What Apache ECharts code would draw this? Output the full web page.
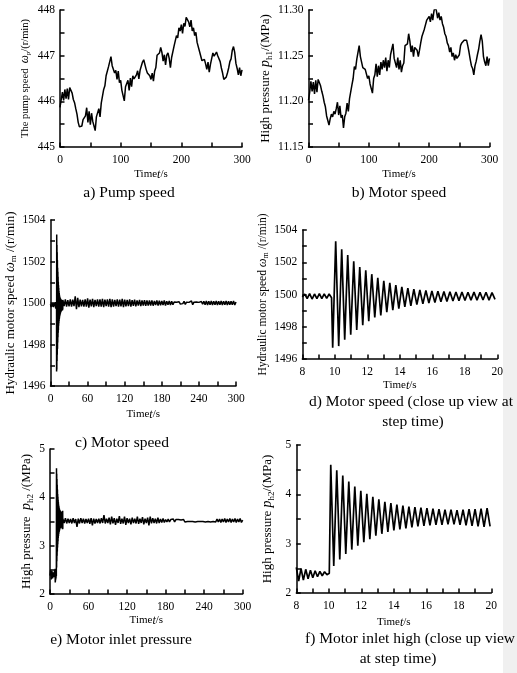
<!DOCTYPE html>
<html><head><meta charset="utf-8">
<script src="https://cdn.jsdelivr.net/npm/echarts@6/dist/echarts.min.js"></script>
<style>html,body{margin:0;padding:0;background:#fff}#c{width:517px;height:673px}</style>
</head><body><div id="c"></div><script>
// ---- data ----
// a) pump speed, t = 0..300 s every 2 s
const pumpSpeed = [445.87,446.04,446.20,446.02,446.26,446.06,446.28,446.04,446.30,446.28,446.18,446.04,445.97,445.84,445.72,445.54,445.44,445.48,445.46,445.60,445.56,445.68,445.86,445.54,445.78,445.49,445.74,445.56,445.56,445.36,445.66,445.64,445.84,445.66,445.96,445.94,446.26,446.34,446.56,446.56,446.76,446.76,446.98,446.78,446.82,446.62,446.68,446.48,446.66,446.41,446.46,446.24,446.26,446.01,446.32,446.29,446.46,446.24,446.51,446.32,446.56,446.49,446.50,446.58,446.67,446.49,446.68,446.64,446.86,446.91,446.87,446.70,446.62,446.66,446.56,446.48,446.62,446.44,446.66,446.74,447.01,446.99,447.06,447.18,447.07,446.88,447.02,446.80,447.01,447.06,446.94,446.74,446.96,446.99,447.21,447.19,447.44,447.39,447.61,447.54,447.68,447.49,447.71,447.64,447.84,447.82,447.74,447.63,447.78,447.54,447.61,447.44,447.51,447.29,447.31,447.09,447.11,446.89,446.91,446.92,446.82,446.70,446.86,446.64,446.81,446.79,447.06,446.99,447.01,447.08,447.00,447.03,446.87,446.73,446.62,446.48,446.44,446.53,446.62,446.73,446.87,446.93,447.12,447.20,447.07,446.83,446.72,446.58,446.74,446.56,446.69];
// b) high pressure p_h1, t = 0..300 s every 2 s
const highPressure1 = [11.201,11.210,11.222,11.211,11.221,11.208,11.223,11.210,11.224,11.222,11.217,11.211,11.206,11.199,11.194,11.184,11.179,11.174,11.181,11.186,11.183,11.189,11.186,11.192,11.199,11.185,11.195,11.182,11.185,11.171,11.183,11.187,11.198,11.189,11.203,11.202,11.218,11.225,11.238,11.235,11.246,11.247,11.261,11.249,11.248,11.237,11.239,11.235,11.235,11.225,11.228,11.219,11.221,11.209,11.225,11.229,11.241,11.227,11.239,11.229,11.243,11.235,11.245,11.237,11.248,11.233,11.245,11.237,11.251,11.252,11.263,11.247,11.248,11.237,11.248,11.235,11.245,11.232,11.239,11.242,11.261,11.259,11.263,11.274,11.266,11.254,11.261,11.249,11.259,11.261,11.256,11.249,11.256,11.264,11.271,11.271,11.279,11.281,11.289,11.289,11.293,11.287,11.296,11.289,11.299,11.304,11.299,11.291,11.297,11.289,11.293,11.285,11.281,11.274,11.271,11.264,11.261,11.254,11.259,11.249,11.253,11.245,11.251,11.247,11.246,11.251,11.261,11.264,11.263,11.267,11.266,11.267,11.261,11.254,11.246,11.239,11.236,11.229,11.239,11.244,11.251,11.257,11.266,11.273,11.266,11.249,11.243,11.239,11.249,11.239,11.247];
// c) motor speed before step, t = 0..7 s every 1 s
const motorSpeedPre0 = [1499.95,1499.8,1500.0,1499.82,1499.98,1499.8,1500.0,1499.85];
// d) motor speed close-up: before step (t = 8..9.8, every 0.15 s)
const motorSpeedPre = [1499.85,1500.02,1499.75,1500.05,1499.72,1500.03,1499.75,1500.05,1499.74,1500.04,1499.76,1500.03,1499.8];
// d) after step: successive troughs / peaks from t = 9.87 s, every 0.185 s
const motorSpeedStep = [1496.7,1503.3,1496.8,1502.8,1497.2,1502.45,1497.5,1502.06,1497.8,1501.7,1498.1,1501.5,1498.35,1501.26,1498.57,1501.03,1498.7,1500.85,1498.9,1500.72,1499.03,1500.58,1499.13,1500.48,1499.23,1500.4,1499.3,1500.33,1499.37,1500.28,1499.42,1500.25,1499.47,1500.22,1499.5,1500.2,1499.55,1500.18,1499.57,1500.17,1499.6,1500.15,1499.62,1500.16,1499.63,1500.14,1499.65,1500.15,1499.64,1500.13,1499.66,1500.14,1499.65,1500.12,1499.7];
// c) motor speed band, t = 20..300 s every 2 s
const motorSpeedBand = [1500.15,1499.85,1500.17,1499.83,1500.14,1499.84,1500.18,1499.82,1500.16,1499.85,
1500.32,1499.7,1500.25,1499.8,1500.16,1499.84,1500.15,1499.83,1500.17,1499.82,
1500.22,1499.78,1500.16,1499.84,1500.2,1499.8,1500.15,1499.85,1500.17,1499.83,
1500.18,1499.82,1500.2,1499.8,1500.16,1499.85,1500.18,1499.82,1500.2,1499.8,
1500.17,1499.83,1500.15,1499.85,1500.18,1499.82,1500.16,1499.84,1500.2,1499.8,
1500.16,1499.84,1500.15,1499.85,1500.17,1499.83,1500.14,1499.86,1500.16,1499.84,
1500.13,1499.87,1500.15,1499.85,1500.12,1499.88,1500.14,1499.86,1500.13,1499.87,
1500.12,1499.88,1500.13,1499.87,1500.1,1499.9,1500.12,1499.88,1500.11,1499.89,
1500.1,1499.9,1500.12,1499.88,1500.09,1499.91,1500.1,1499.9,1500.08,1499.92,
1500.05,1499.96,1500.04,1499.97,1500.06,1499.95,1500.03,1499.97,1500.08,1499.93,
1500.04,1499.97,1500.03,1499.96,1500.1,1499.92,1500.04,1499.97,1500.05,1499.96,
1500.03,1499.97,1500.07,1499.94,1500.08,1499.92,1500.1,1499.9,1500.09,1499.91,
1500.1,1499.9,1500.09,1499.91,1500.1,1499.9,1500.08,1499.92,1500.1,1499.9,
1500.09,1499.91,1500.1,1499.9,1500.08,1499.92,1500.09,1499.91,1500.1,1499.9,
1500.05];
// e) inlet pressure before step, t = 0..7 s every 1 s
const inletPressurePre0 = [2.38,2.5,2.3,2.48,2.32,2.45,2.35,2.47];
// f) close-up before step, t = 8..10.03 s every 0.145 s
const inletPressurePre = [2.52,2.24,2.5,2.26,2.48,2.29,2.46,2.31,2.45,2.33,2.44,2.35,2.43,2.37,2.4];
// f) after step: peaks / troughs from t = 10.12 s, every 0.185 s
const inletPressureStep = [4.6,2.55,4.49,2.68,4.38,2.79,4.26,2.88,4.16,2.96,4.07,3.03,4.01,3.09,3.95,3.16,3.9,3.2,3.85,3.24,3.82,3.27,3.79,3.29,3.77,3.31,3.75,3.33,3.74,3.35,3.73,3.36,3.72,3.37,3.71,3.38,3.7,3.38,3.69,3.39,3.69,3.39,3.68,3.38,3.69,3.37,3.7,3.36,3.7,3.35,3.71,3.34,3.72,3.35];
// e) inlet pressure band, t = 20..300 s every 2 s
const inletPressureBand = [3.56,3.47,3.57,3.46,3.56,3.47,3.55,3.46,3.57,3.47,
3.55,3.39,3.56,3.46,3.57,3.47,3.56,3.46,3.55,3.47,
3.56,3.45,3.57,3.42,3.56,3.46,3.55,3.47,3.56,3.46,
3.57,3.47,3.63,3.46,3.56,3.47,3.58,3.44,3.6,3.46,
3.57,3.43,3.56,3.47,3.61,3.45,3.56,3.46,3.6,3.43,
3.57,3.47,3.56,3.44,3.58,3.47,3.56,3.46,3.6,3.45,
3.56,3.47,3.59,3.44,3.56,3.47,3.58,3.42,3.6,3.46,
3.57,3.47,3.56,3.46,3.58,3.47,3.55,3.48,3.56,3.48,
3.54,3.49,3.55,3.49,3.54,3.5,3.55,3.49,3.54,3.5,
3.54,3.5,3.53,3.5,3.54,3.49,3.53,3.5,3.54,3.5,
3.53,3.5,3.54,3.49,3.53,3.5,3.54,3.5,3.53,3.5,
3.54,3.49,3.53,3.5,3.54,3.49,3.53,3.5,3.54,3.49,
3.55,3.49,3.55,3.48,3.55,3.49,3.56,3.48,3.55,3.49,
3.56,3.48,3.55,3.49,3.56,3.48,3.55,3.49,3.56,3.48,
3.53];

const captions = ['a) Pump speed','b) Motor speed','c) Motor speed','d) Motor speed (close up view at','step time)','e) Motor inlet pressure','f) Motor inlet high (close up view','at step time)'];

// ---- build ----
function seq(t0, dt, vals){ return vals.map((v,i)=>[+(t0+i*dt).toFixed(4), v]); }
const F = 'Liberation Serif';
const dataA = seq(0,2,pumpSpeed);
const dataB = seq(0,2,highPressure1);
const dataD = seq(8,0.15,motorSpeedPre).concat(seq(9.87,0.185,motorSpeedStep));
const dataC = seq(0,1,motorSpeedPre0).concat(dataD, seq(20,2,motorSpeedBand));
const dataF = seq(8,0.145,inletPressurePre).concat(seq(10.12,0.185,inletPressureStep));
const dataE = seq(0,1,inletPressurePre0).concat(dataF, seq(20,2,inletPressureBand));

function rich(fs){
  return {
    n:{fontFamily:F,fontSize:fs,color:'#000',lineHeight:fs+4},
    i:{fontFamily:F,fontSize:fs+1,fontStyle:'italic',color:'#000',lineHeight:fs+4},
    s:{fontFamily:F,fontSize:Math.round(fs*0.7),color:'#000',lineHeight:Math.round(fs*0.7),verticalAlign:'bottom'}
  };
}
function isMul(v, m){ const r = v/m; return Math.abs(r-Math.round(r))<1e-6; }
function xAx(idx, min, max, iv, lab, gap){
  return {gridIndex:idx,type:'value',min:min,max:max,interval:iv,
    axisLine:{lineStyle:{color:'#000',width:1.5}},
    axisTick:{inside:true,length:4.5,lineStyle:{color:'#000',width:1.5}},
    splitLine:{show:false},
    axisLabel:{color:'#000',fontFamily:F,fontSize:11.5,margin:7,
      formatter:v=>isMul(v,lab)?String(Math.round(v)):''},
    name:'{n|Time}{i|t}{n|/s}',nameLocation:'middle',nameGap:gap,
    nameTextStyle:{rich:rich(11)}};
}
function yAx(idx, min, max, iv, lab, dec, name, fs, gap){
  return {gridIndex:idx,type:'value',min:min,max:max,interval:iv,
    axisLine:{lineStyle:{color:'#000',width:1.5}},
    axisTick:{inside:true,length:4.5,lineStyle:{color:'#000',width:1.5}},
    splitLine:{show:false},
    axisLabel:{color:'#000',fontFamily:F,fontSize:11.5,margin:5,
      formatter:v=>isMul(v,lab)?v.toFixed(dec):''},
    name:name,nameLocation:'middle',nameGap:gap,
    nameTextStyle:{rich:rich(fs)}};
}
function ser(idx, data, w){
  return {type:'line',xAxisIndex:idx,yAxisIndex:idx,data:data,showSymbol:false,
    lineStyle:{color:'#000',width:w},itemStyle:{color:'#000'},animation:false};
}
function cap(text, x, y, align){
  return {type:'text',z:100,style:{text:text,x:x,y:y,fontFamily:F,fontSize:15.5,fill:'#000',
    textAlign:align||'center',align:align||'center',textVerticalAlign:'middle',verticalAlign:'middle'}};
}

const chart = echarts.init(document.getElementById('c'));
chart.setOption({
  animation:false,
  backgroundColor:'#fff',
  graphic:[
    {type:'rect',z:-10,shape:{x:503,y:0,width:14,height:673},style:{fill:'#f0f0f0'}},
    cap(captions[0],129,193), cap(captions[1],399,193), cap(captions[2],122,443),
    cap(captions[3],309,402,'left'), cap(captions[4],413,422),
    cap(captions[5],121,640),
    cap(captions[6],305,639,'left'), cap(captions[7],398,659)
  ],
  grid:[
    {left:60,top:10,width:182,height:137},
    {left:308.5,top:10,width:181,height:137},
    {left:50.5,top:220,width:185.5,height:166},
    {left:302.3,top:230,width:195,height:129},
    {left:50,top:449,width:192.7,height:145},
    {left:296.3,top:445,width:195,height:148}
  ],
  xAxis:[
    xAx(0,0,300,50,100,20),
    xAx(1,0,300,50,100,20),
    xAx(2,0,300,30,60,21),
    xAx(3,8,20,1,2,19),
    xAx(4,0,300,30,60,19),
    xAx(5,8,20,1,2,22)
  ],
  yAxis:[
    yAx(0,445,448,0.5,1,0,'{n|The pump speed  }{i|ω}{s|p}{n|/(r/min)}',10.5,28),
    yAx(1,11.15,11.30,0.025,0.05,2,'{n|High pressure }{i|p}{s|h1}{n|/(MPa)}',13,34),
    yAx(2,1496,1504,1,2,0,'{n|Hydraulic motor speed }{i|ω}{s|m}{n| /(r/min)}',13,27),
    yAx(3,1496,1504,1,2,0,'{n|Hydraulic motor speed }{i|ω}{s|m}{n| /(r/min)}',11.5,31),
    yAx(4,2,5,0.5,1,0,'{n|High pressure  }{i|p}{s|h2}{n| /(MPa)}',13,15),
    yAx(5,2,5,0.5,1,0,'{n|High pressure }{i|p}{s|h2}{n|/(MPa)}',13,20)
  ],
  series:[
    ser(0,dataA,1.5), ser(1,dataB,1.5), ser(2,dataC,1.5),
    ser(3,dataD,1.7), ser(4,dataE,1.5), ser(5,dataF,1.7)
  ]
});
</script></body></html>
